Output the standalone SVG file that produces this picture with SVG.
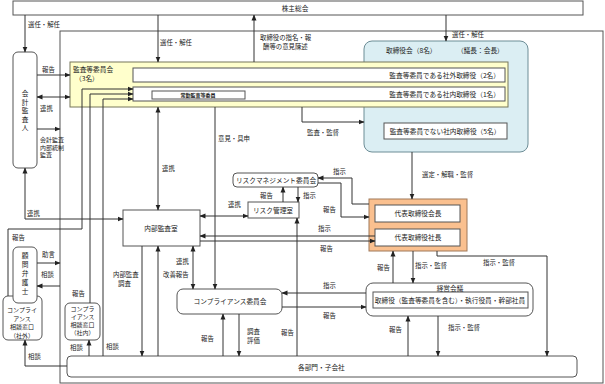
<svg xmlns="http://www.w3.org/2000/svg" width="605" height="384" viewBox="0 0 605 384">
<style>
text{font-family:"Noto Sans CJK JP","Noto Sans",sans-serif;fill:#222}
.n{font-size:6.7px}
.s{font-size:6px}
.l{font-size:6.4px}
.c{text-anchor:middle}
.e{text-anchor:end}
.box{fill:#fff;stroke:#555;stroke-width:1}
.cn path{fill:none;stroke:#333;stroke-width:1}
.ar{marker-end:url(#a)}
.bi{marker-end:url(#a);marker-start:url(#a)}
</style>
<defs>
<marker id="a" markerWidth="6" markerHeight="6" refX="5.5" refY="3" orient="auto-start-reverse" markerUnits="userSpaceOnUse"><path d="M0,0.5 L6,3 L0,5.5 z" fill="#222"/></marker>
</defs>
<rect width="605" height="384" fill="#fff"/>
<rect x="60" y="31" width="543" height="352" fill="none" stroke="#555"/>

<g id="kabunushi"><rect class="box" x="13" y="1" width="570" height="14"/><text class="n c" x="295" y="11">株主総会</text></g>

<g id="kaikei"><rect class="box" x="13" y="52" width="24" height="116" rx="5"/>
<text class="n c" x="25" y="96">会</text><text class="n c" x="25" y="104.5">計</text><text class="n c" x="25" y="113">監</text><text class="n c" x="25" y="121.5">査</text><text class="n c" x="25" y="130">人</text></g>

<g id="torishimariyakukai"><rect x="364" y="41" width="164" height="111" rx="8" fill="#DBEEF3" stroke="#6d8d96"/>
<text class="n" x="386" y="53">取締役会（8名）</text><text class="n" x="457" y="53">（議長：会長）</text>
<rect class="box" x="384" y="123" width="123" height="16" stroke="#333"/><text class="n c" x="445" y="133.5">監査等委員でない社内取締役（5名）</text></g>

<g id="kansaiinkai"><rect x="70" y="62" width="438" height="45" fill="#FFFFCC" stroke="#77775a"/>
<text class="n" x="73" y="72">監査等委員会</text><text class="n" x="75" y="81">（3名）</text>
<rect class="box" x="133" y="68" width="372" height="14" stroke="#333"/><text class="n e" x="500" y="77.5">監査等委員である社外取締役（2名）</text>
<rect class="box" x="133" y="87" width="372" height="14" stroke="#333"/><text class="n e" x="500" y="96.5">監査等委員である社内取締役（1名）</text>
<rect class="box" x="152" y="91" width="93" height="8" stroke="#777"/><text class="c" x="198" y="97" style="font-size:5px;font-weight:bold">常勤監査等委員</text></g>

<g id="daihyo"><rect x="369" y="199" width="98" height="52" fill="#FAC08F" stroke="#a07858"/>
<rect class="box" x="375" y="205" width="85" height="17" stroke="#333"/><text class="n c" x="418" y="216">代表取締役会長</text>
<rect class="box" x="375" y="229" width="85" height="17" stroke="#333"/><text class="n c" x="418" y="240">代表取締役社長</text></g>

<g id="riskiinkai"><rect class="box" x="233" y="173" width="85" height="14" rx="4"/><text class="n c" x="276" y="182.5">リスクマネジメント委員会</text></g>
<g id="riskkanri"><rect class="box" x="248" y="202" width="51" height="16"/><text class="n c" x="273" y="212.5">リスク管理室</text></g>
<g id="naibukansa"><rect class="box" x="123" y="210" width="77" height="36"/><text class="n c" x="161" y="230.5">内部監査室</text></g>
<g id="compliance"><rect class="box" x="177" y="289" width="105" height="25" rx="6"/><text class="n c" x="230" y="304">コンプライアンス委員会</text></g>
<g id="keiei"><rect class="box" x="366" y="283" width="167" height="33" rx="7"/><text class="n c" x="450" y="291">経営会議</text>
<rect class="box" x="373" y="292" width="155" height="16" stroke="#333"/><text class="n c" x="450" y="302.5">取締役（監査等委員を含む）・執行役員・幹部社員</text></g>
<g id="kakubumon"><rect class="box" x="67" y="356" width="510" height="21" rx="4"/><text class="n" x="298" y="369.5">各部門・子会社</text></g>
<g id="shagai"><rect class="box" x="3" y="296" width="39" height="44" rx="5"/>
<text class="s c" x="22" y="312">コンプライ</text><text class="s c" x="22" y="320.5">アンス</text><text class="s c" x="22" y="329">相談窓口</text><text class="s c" x="22" y="337.5">（社外）</text></g>
<g id="komon"><rect class="box" x="13" y="247" width="24" height="56" rx="5"/>
<text class="n c" x="25" y="258">顧</text><text class="n c" x="25" y="267">問</text><text class="n c" x="25" y="276">弁</text><text class="n c" x="25" y="285">護</text><text class="n c" x="25" y="294">士</text></g>
<g id="shanai"><rect class="box" x="65" y="303" width="35" height="37" rx="5"/>
<text class="s c" x="82.5" y="311">コンプラ</text><text class="s c" x="82.5" y="319">イアンス</text><text class="s c" x="82.5" y="327">相談窓口</text><text class="s c" x="82.5" y="335">（社内）</text></g>

<g id="connectors" class="cn">
<path class="ar" d="M25,15 V52"/>
<path class="ar" d="M158,15 V62"/>
<path class="ar" d="M254,62 V15"/>
<path class="ar" d="M446,15 V41"/>
<path class="ar" d="M37,75 H70"/>
<path class="bi" d="M37,97 H70"/>
<path class="ar" d="M37,129 H60"/>
<path class="bi" d="M25,168 V219 H123"/>
<path class="ar" d="M8,296 V229 H82 V89 H133"/>
<path class="ar" d="M90,303 V94 H133"/>
<path class="ar" d="M103,356 V99 H133"/>
<path class="ar" d="M37,263 H60"/>
<path class="ar" d="M60,286 H37"/>
<path class="ar" d="M67,366 H25 V340"/>
<path class="ar" d="M89,356 V340"/>
<path class="bi" d="M158,107 V210"/>
<path class="ar" d="M215,107 V289"/>
<path class="ar" d="M302,107 V122 H364"/>
<path class="ar" d="M412,152 V199"/>
<path class="ar" d="M142,246 V356"/>
<path class="ar" d="M158,356 V246"/>
<path class="bi" d="M193,246 V289"/>
<path class="bi" d="M200,216 H248"/>
<path class="ar" d="M283,202 V187"/>
<path class="ar" d="M298,187 V202"/>
<path class="ar" d="M369,204 H352 V178 H318"/>
<path class="ar" d="M318,183 H341 V217 H369"/>
<path class="ar" d="M375,236 H200"/>
<path class="ar" d="M200,241 H375"/>
<path class="ar" d="M297,356 V218"/>
<path class="ar" d="M366,293 H282"/>
<path class="ar" d="M282,307 H366"/>
<path class="ar" d="M223,356 V314"/>
<path class="ar" d="M239,314 V356"/>
<path class="ar" d="M393,283 V251"/>
<path class="ar" d="M413,251 V283"/>
<path class="ar" d="M437,251 V256 H547 V356"/>
<path class="ar" d="M408,356 V316"/>
<path class="ar" d="M438,316 V356"/>
</g>

<g id="labels">
<text class="l" x="28" y="26.5">選任・解任</text>
<text class="l" x="160" y="45">選任・解任</text>
<text class="l" x="260" y="40">取締役の指名・報</text>
<text class="l" x="263" y="49">酬等の意見陳述</text>
<text class="l" x="452" y="36.5">選任・解任</text>
<text class="l" x="42" y="71.5">報告</text>
<text class="l" x="40" y="110.5">連携</text>
<text class="s" x="40" y="142">会計監査</text>
<text class="s" x="40" y="149.5">内部統制</text>
<text class="s" x="40" y="157">監査</text>
<text class="l" x="27" y="216">連携</text>
<text class="l" x="12" y="240">報告</text>
<text class="l" x="72" y="296">報告</text>
<text class="l" x="106" y="349">相談</text>
<text class="l" x="42" y="257">助言</text>
<text class="l" x="41" y="277">相談</text>
<text class="l" x="28" y="359">相談</text>
<text class="l" x="70" y="350">相談</text>
<text class="l" x="162" y="171">連携</text>
<text class="l" x="218" y="141">意見・具申</text>
<text class="l" x="307" y="135">監査・監督</text>
<text class="l" x="422" y="176.5">選定・解職・監督</text>
<text class="l" x="113" y="276.5">内部監査</text>
<text class="l" x="118" y="285.5">調査</text>
<text class="l" x="163" y="276.5">改善報告</text>
<text class="l" x="176" y="263.5">連携</text>
<text class="l" x="228" y="207">連携</text>
<text class="l" x="260" y="197.5">報告</text>
<text class="l" x="303" y="197.5">指示</text>
<text class="l" x="333" y="173.5">指示</text>
<text class="l" x="323" y="212">報告</text>
<text class="l" x="318" y="231">指示</text>
<text class="l" x="320" y="250.5">報告</text>
<text class="l" x="281" y="335">報告</text>
<text class="l" x="323" y="288">指示</text>
<text class="l" x="323" y="317.5">報告</text>
<text class="l" x="201" y="340.5">報告</text>
<text class="l" x="247" y="333.5">調査</text>
<text class="l" x="247" y="342.5">評価</text>
<text class="l" x="377" y="269.5">報告</text>
<text class="l" x="415" y="267.5">指示・監督</text>
<text class="l" x="483" y="264.5">指示・監督</text>
<text class="l" x="389" y="331.5">報告</text>
<text class="l" x="448" y="329.5">指示・監督</text>
</g>
</svg>
